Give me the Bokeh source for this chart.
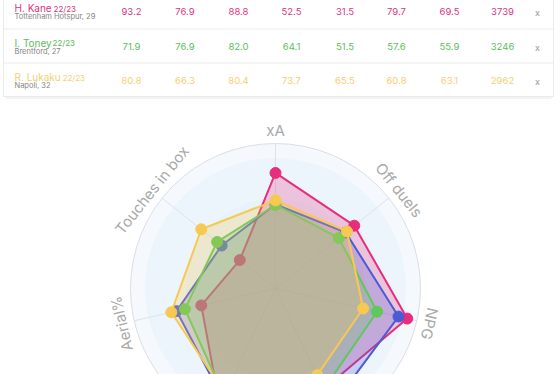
import numpy as np
from bokeh.plotting import figure
from bokeh.models import Range1d, ColumnDataSource
from bokeh.core.properties import value
from bokeh.embed import file_html
from bokeh.resources import INLINE

# ---------------- data ----------------
axes_names = ["NPG", "NPxG", "Shots", "Aerial%", "Touches in box", "xA", "Off duels"]

kane = [93.2, 76.9, 88.8, 52.5, 31.5, 79.7, 69.5]
other = [87.0, 90.0, 84.0, 70.0, 47.5, 58.0, 62.0]
toney = [71.9, 76.9, 82.0, 64.1, 51.5, 57.6, 55.9]
lukaku = [62.0, 66.3, 80.4, 73.7, 65.5, 60.8, 63.1]

players = ["H. Kane", "I. Toney", "R. Lukaku"]
seasons = ["22/23", "22/23", "22/23"]
clubs = ["Tottenham Hotspur, 29", "Brentford, 27", "Napoli, 32"]
table_stats = [
    [93.2, 76.9, 88.8, 52.5, 31.5, 79.7, 69.5],
    [71.9, 76.9, 82.0, 64.1, 51.5, 57.6, 55.9],
    [80.8, 66.3, 80.4, 73.7, 65.5, 60.8, 63.1],
]
minutes = [3739, 3246, 2962]

# ---------------- styles ----------------
FONT = "Inter"
W, H = 560, 374
CX, CY, R = 275.0, 288.0, 145.0
row_colors = ["#d93683", "#5cbd5c", "#f3cf72"]
series = [
    (kane, "#e62e7d"),
    (other, "#4a5bd4"),
    (toney, "#5ec85b"),
    (lukaku, "#f8c950"),
]

p = figure(width=W, height=H, output_backend="svg", toolbar_location=None,
           x_range=Range1d(0, W), y_range=Range1d(H, 0),
           min_border=0, background_fill_color="white", border_fill_color="white")
p.axis.visible = False
p.grid.visible = False
p.outline_line_color = None

n = len(axes_names)
theta = np.deg2rad(90 - 360.0 / n * (np.arange(n) - 5))

def to_xy(vals):
    r = np.asarray(vals) / 100.0 * R
    return CX + r * np.cos(theta), CY - r * np.sin(theta)

# background disks
for frac, col in [(1.0, "#f5f9fd"), (0.9, "#edf5fc"), (0.62, "#e8f2fa")]:
    p.circle(x=[CX], y=[CY], radius=R * frac, fill_color=col, line_color=None)
p.circle(x=[CX], y=[CY], radius=R, fill_color=None, line_color="#d9dee4", line_width=1)

# spokes
ex, ey = to_xy([100] * n)
p.segment(x0=[CX] * n, y0=[CY] * n, x1=ex, y1=ey, line_color="#dde2e8", line_width=1)

# series
for vals, col in series:
    xs, ys = to_xy(vals)
    p.patch(x=list(xs), y=list(ys), fill_color=col, fill_alpha=0.25,
            line_color=col, line_width=2)
    p.scatter(x=xs, y=ys, size=11, fill_color=col, line_color=col)

# axis labels
lr = R + 13
lx = CX + lr * np.cos(theta)
ly = CY - lr * np.sin(theta)
keep = ly < H - 5
lab = ColumnDataSource(dict(x=lx[keep], y=ly[keep],
                            t=[a for a, k in zip(axes_names, keep) if k],
                            a=(theta - np.pi / 2)[keep]))
p.text(x="x", y="y", text="t", angle="a", source=lab, text_font=value(FONT),
       text_font_size="15px", text_color="#a9a9a9", text_align="center",
       text_baseline="middle")

# ---------------- table ----------------
p.quad(left=[3], right=[553], top=[-5], bottom=[96], fill_color="white",
       line_color="#eaeaea", line_width=1)
p.segment(x0=[3, 3], y0=[28.5, 62.5], x1=[553, 553], y1=[28.5, 62.5],
          line_color="#ececec", line_width=1)
p.segment(x0=[5], y0=[97.5], x1=[551], y1=[97.5], line_color="#f3f3f3", line_width=2)

row_y = [11, 45.5, 80]
season_x = [53, 52, 62]
col_x = [131, 184.5, 238, 291, 344.5, 396, 449, 502]
for i in range(3):
    y = row_y[i]
    c = row_colors[i]
    p.text(x=[14], y=[y - 3.5], text=[players[i]], text_font=value(FONT),
           text_font_size="10px", text_color=c, text_baseline="middle")
    p.text(x=[season_x[i]], y=[y - 3], text=[seasons[i]], text_font=value(FONT),
           text_font_size="8px", text_color=c, text_baseline="middle")
    p.text(x=[14], y=[y + 5], text=[clubs[i]], text_font=value(FONT),
           text_font_size="7.5px", text_color="#858585", text_baseline="middle")
    vals = [f"{v:.1f}" for v in table_stats[i]] + [str(minutes[i])]
    p.text(x=col_x, y=[y] * 8, text=vals, text_font=value(FONT),
           text_font_size="9.5px", text_color=c, text_align="center",
           text_baseline="middle")
    p.text(x=[537], y=[y + 1], text=["x"], text_font=value(FONT),
           text_font_size="9px", text_color="#999999", text_align="center",
           text_baseline="middle")

open("out.html", "w").write(file_html(p, INLINE))
